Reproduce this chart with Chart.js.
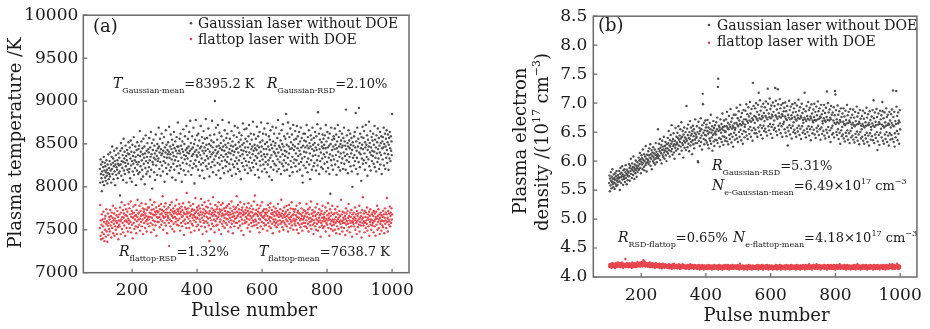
<!DOCTYPE html>
<html>
<head>
<meta charset="utf-8">
<script src="https://cdn.jsdelivr.net/npm/chart.js@4.4.0/dist/chart.umd.min.js"></script>
<style>
  html, body { margin: 0; padding: 0; background: #fff; }
  #wrap { position: relative; width: 930px; height: 329px; }
  .panel { position: absolute; top: 0; width: 465px; height: 329px; }
</style>
</head>
<body>
<div id="wrap">
  <div class="panel" style="left:0"><canvas id="chartA" width="465" height="329"></canvas></div>
  <div class="panel" style="left:465px"><canvas id="chartB" width="465" height="329"></canvas></div>
</div>
<script>
// pulse numbers run 101..1000, one value per pulse
const firstPulse = 101;
const pulseTicks = [200, 400, 600, 800, 1000];
const tempTicks = [7000, 7500, 8000, 8500, 9000, 9500, 10000];
const densTicks = [4.0, 4.5, 5.0, 5.5, 6.0, 6.5, 7.0, 7.5, 8.0, 8.5];

// (a) plasma temperature, K
const tempGauss = [
  8210,8050,8320,8150,8260,8100,7950,8180,8290,8060,8230,8140,8350,8020,8190,8280,8110,8240,8070,8170,8310,8130,8200,8040,8260,8160,8380,8090,8220,8150,
  8300,8120,8400,8190,8260,8050,8350,8210,8470,8150,8280,8330,8090,8240,8420,8180,8300,8020,8260,8370,8140,8230,8450,8200,8310,8100,8270,8390,8160,8250,
  8340,8180,7900,8420,8260,8510,8130,8300,8450,8220,8370,8080,8290,8560,8190,8330,8410,8150,8280,8480,8240,8360,8050,8310,8430,8200,8390,8270,8520,8170,
  8380,8210,8460,8100,8330,8540,8250,8410,8060,8300,8490,8180,8360,8270,8580,8140,8400,8310,8220,8470,8350,8020,8290,8430,8190,8520,8260,8370,8150,8440,
  8290,8480,8170,8650,8360,8240,8410,8090,8530,8310,8200,8450,8380,8120,8560,8270,8340,8470,8030,8390,8220,8600,8300,8150,8420,8350,8510,8180,8280,8440,
  8400,8230,8570,8310,8120,8460,8350,8640,8200,8380,8510,7980,8290,8430,8260,8550,8340,8170,8480,8390,8080,8320,8610,8250,8420,8360,8140,8500,8300,8450,
  8330,8690,8470,8210,8400,8560,8290,8130,8440,8370,8620,8250,8390,8510,8180,8420,8300,8580,8350,8060,8460,8280,8400,8660,8220,8490,8340,8150,8430,8380,
  8520,8260,8410,8700,8340,8190,8470,8380,8610,8230,8440,8320,8550,8110,8400,8490,8270,8360,8640,8200,8450,8310,8530,8080,8420,8350,8580,8240,8470,8390,
  8750,8300,8470,8160,8420,8560,8250,8390,8620,8210,8480,8340,8060,8440,8530,8280,8410,8670,8190,8370,8500,8320,8590,8140,8430,8360,8710,8270,8450,8400,
  8330,8560,8180,8470,8390,8640,8250,8420,8770,8300,8510,8140,8440,8360,8590,8220,8460,8380,8690,8270,8500,8040,8410,8550,8310,8780,8240,8430,8370,8600,
  8350,8480,8200,8620,8400,8290,8540,8130,8450,8370,8710,8260,8470,8330,8580,8190,8420,8510,8280,8650,8390,8100,8460,8560,8310,8420,8790,8240,8490,8360,
  8570,8210,8440,8330,8680,8270,8500,8120,8410,8600,8350,8480,8230,8540,8380,8770,8290,8460,8170,8400,8520,8320,8610,8250,9000,8430,8360,8690,8140,8470,
  8390,8550,8280,8720,8410,8190,8480,8340,8630,8260,8450,8100,8510,8370,8590,8300,8430,8780,8220,8470,8350,8540,8160,8420,8660,8310,8490,8240,8380,8570,
  8460,8290,8620,8350,8180,8510,8400,8750,8270,8440,8560,8200,8390,8480,8320,8650,8130,8420,8530,8260,8470,8370,8600,8230,8410,8710,8300,8490,8150,8440,
  8340,8580,8270,8450,8690,8210,8400,8520,8310,8630,8180,8470,8360,8550,8090,8430,8600,8280,8490,8380,8740,8240,8420,8510,8330,8670,8200,8460,8560,8300,
  8410,8680,8250,8530,8370,8160,8460,8590,8290,8720,8400,8220,8500,8340,8620,8190,8440,8550,8280,8470,8380,8760,8230,8420,8610,8310,8490,8140,8450,8360,
  8560,8270,8430,8700,8340,8480,8200,8590,8390,8110,8460,8640,8300,8520,8250,8410,8750,8360,8470,8180,8540,8320,8620,8260,8440,8380,8680,8210,8500,8350,
  8290,8610,8440,8170,8520,8380,8740,8260,8470,8310,8590,8120,8430,8550,8340,8660,8230,8490,8370,8080,8450,8700,8300,8530,8200,8410,8620,8270,8480,8390,
  8510,8250,8690,8360,8440,8180,8570,8320,8780,8400,8210,8480,8620,8290,8460,8350,8540,8150,8430,8660,8270,8500,8380,8730,8240,8470,8310,8590,8190,8420,
  8360,8560,8280,8850,8410,8490,8200,8620,8340,8750,8260,8470,8390,8580,8130,8440,8680,8300,8520,8230,8450,8610,8350,8170,8490,8720,8280,8430,8550,8320,
  8470,8650,8240,8390,8560,8310,8710,8180,8450,8590,8360,8500,8270,8640,8420,8200,8530,8380,8690,8290,8460,8570,8330,8130,8050,8480,8620,8250,8410,8540,
  8350,8620,8460,8220,8530,8400,8720,8290,8480,8170,8580,8330,8450,8660,8260,8510,8390,8090,8470,8600,8310,8550,8200,8440,8690,8360,8490,8240,8570,8420,
  8280,8510,8640,8370,8460,8190,8590,8430,8310,8730,8250,8870,8490,8360,8620,8150,8440,8550,8300,8680,8400,8230,8520,8470,8330,8610,8210,8450,8560,8380,
  8490,8270,8600,8350,8450,8720,8180,8530,8400,8290,8640,8460,8220,8570,8340,8480,8150,8620,8380,7920,8500,8310,8690,8250,8430,8550,8360,8200,8470,8590,
  8320,8560,8440,8680,8260,8490,8370,8610,8140,8450,8530,8300,8720,8410,8230,8580,8470,8350,8650,8190,8500,8390,8540,8280,8460,8620,8330,8480,8210,8570,
  8400,8690,8270,8530,8360,8480,8200,8900,8440,8310,8600,8380,8510,8160,8470,8660,8290,8540,8350,8450,8620,8240,8490,8390,8570,8180,8430,8000,8520,8340,
  8480,8250,8590,8370,8640,8300,8460,8860,8210,8530,8420,8340,8690,8150,8470,8560,8290,8920,8400,8510,8230,8620,8380,8450,8070,8580,8330,8490,8700,8270,
  8440,8570,8310,8650,8390,8200,8520,8460,8720,8280,8490,8350,8600,8130,8430,8550,8320,8470,8760,8240,8510,8400,8650,8190,8460,8370,8580,8300,8420,8540,
  8360,8620,8270,8490,8410,8710,8230,8550,8340,8460,8180,8600,8390,8520,8290,8680,8440,8330,8570,8210,8480,8400,8640,8260,8510,8370,8590,8150,8450,8530,
  8320,8580,8460,8690,8250,8500,8390,8620,8210,8470,8560,8340,8660,8430,8280,8520,8610,8380,8200,8490,8570,8330,8640,8450,8300,8590,8420,8530,8370,8850
];
const tempFlat = [
  7520,7790,7430,7610,7390,7560,7680,7470,7620,7400,7540,7710,7450,7590,7370,7630,7500,7660,7420,7570,7740,7480,7600,7360,7550,7690,7440,7580,7510,7650,
  7620,7480,7730,7550,7660,7410,7590,7700,7520,7640,7780,7460,7610,7570,7690,7430,7630,7540,7750,7500,7600,7670,7450,7580,7720,7530,7650,7390,7610,7560,
  7680,7540,7760,7600,7450,7700,7620,7820,7510,7650,7580,7730,7470,7640,7690,7550,7790,7600,7430,7670,7610,7740,7520,7660,7590,7710,7480,7630,7800,7570,
  7610,7750,7520,7680,7590,7830,7470,7650,7720,7560,7690,7400,7640,7770,7580,7700,7510,7660,7620,7790,7540,7670,7460,7730,7600,7650,7850,7530,7690,7620,
  7700,7560,7780,7630,7490,7720,7660,7590,7810,7540,7680,7620,7750,7450,7670,7710,7580,7740,7640,7520,7690,7800,7600,7660,7480,7730,7620,7570,7760,7650,
  7620,7760,7540,7700,7650,7850,7580,7690,7470,7730,7640,7790,7560,7680,7610,7740,7500,7670,7820,7600,7710,7550,7680,7760,7430,7650,7720,7590,7700,7640,
  7710,7590,7780,7650,7530,7740,7680,7620,7800,7560,7690,7730,7600,7890,7660,7500,7720,7640,7770,7580,7700,7650,7810,7550,7680,7740,7610,7460,7700,7660,
  7640,7760,7580,7310,7700,7620,7790,7540,7680,7730,7600,7820,7660,7510,7710,7640,7750,7570,7690,7480,7720,7650,7780,7590,7700,7630,7850,7560,7680,7740,
  7610,7720,7550,7690,7800,7630,7750,7490,7680,7710,7580,7770,7650,7540,7730,7660,7810,7600,7700,7440,7690,7620,7760,7570,7680,7740,7520,7930,7650,7710,
  7690,7580,7750,7630,7820,7520,7700,7660,7600,7780,7470,7680,7720,7570,7740,7640,7550,7800,7670,7610,7730,7490,7690,7650,7870,7590,7710,7630,7540,7760,
  7640,7730,7560,7690,7780,7500,7670,7620,7750,7590,7710,7860,7540,7680,7640,7790,7450,7700,7610,7740,7580,7660,7820,7530,7690,7720,7600,7770,7480,7650,
  7700,7580,7760,7630,7840,7550,7690,7370,7720,7640,7800,7510,7680,7610,7750,7570,7700,7660,7880,7540,7730,7620,7680,7470,7710,7790,7600,7660,7550,7740,
  7630,7770,7560,7700,7650,7820,7500,7680,7740,7590,7710,7620,7790,7450,7660,7730,7570,7690,7810,7540,7670,7600,7750,7640,7520,7720,7680,7580,7760,7630,
  7690,7560,7780,7620,7710,7480,7670,7800,7590,7700,7640,7750,7530,7680,7610,7830,7570,7720,7650,7460,7690,7770,7600,7660,7540,7740,7630,7700,7580,7760,
  7640,7890,7580,7710,7660,7790,7520,7680,7740,7600,7700,7550,7820,7650,7690,7490,7730,7620,7760,7570,7670,7710,7440,7680,7800,7610,7690,7580,7730,7650,
  7700,7590,7760,7630,7520,7720,7670,7810,7560,7690,7620,7750,7480,7660,7710,7580,7780,7640,7540,7700,7610,7740,7660,7590,7830,7550,7680,7900,7620,7690,
  7600,7730,7560,7680,7790,7520,7660,7710,7580,7750,7630,7470,7690,7620,7780,7540,7670,7700,7590,7820,7650,7510,7720,7640,7580,7740,7660,7550,7700,7620,
  7680,7560,7740,7610,7700,7490,7660,7790,7580,7720,7630,7540,7760,7650,7600,7810,7520,7690,7640,7730,7570,7680,7460,7700,7620,7770,7590,7660,7710,7550,
  7620,7750,7580,7690,7530,7670,7720,7600,7800,7560,7650,7700,7480,7680,7610,7740,7570,7660,7850,7590,7690,7530,7640,7720,7600,7500,7670,7760,7580,7650,
  7690,7560,7710,7620,7780,7540,7660,7600,7730,7480,7680,7640,7790,7570,7700,7620,7520,7750,7650,7590,7820,7550,7670,7610,7740,7500,7680,7630,7710,7570,
  7600,7740,7550,7670,7620,7780,7500,7650,7700,7580,7720,7460,7640,7690,7560,7810,7610,7530,7680,7630,7750,7570,7660,7490,7700,7620,7580,7730,7640,7540,
  7660,7580,7720,7540,7690,7610,7800,7520,7650,7700,7570,7740,7480,7630,7680,7590,7760,7550,7640,7830,7600,7510,7690,7620,7730,7560,7660,7450,7700,7610,
  7580,7710,7540,7660,7760,7500,7630,7680,7570,7800,7610,7490,7700,7590,7640,7740,7530,7670,7610,7420,7690,7580,7720,7550,7640,7780,7600,7520,7680,7630,
  7650,7540,7700,7600,7760,7480,7630,7580,7720,7560,7670,7610,7810,7520,7640,7690,7430,7620,7740,7570,7660,7510,7700,7600,7550,7780,7620,7490,7680,7590,
  7560,7690,7620,7500,7740,7580,7650,7460,7700,7600,7540,7770,7620,7680,7510,7640,7590,7720,7450,7660,7570,7610,7850,7530,7680,7600,7480,7710,7580,7640,
  7620,7520,7700,7580,7660,7440,7630,7750,7560,7690,7600,7490,7720,7570,7640,7800,7530,7660,7610,7470,7700,7580,7650,7540,7730,7600,7420,7680,7590,7630,
  7570,7700,7540,7650,7610,7760,7500,7630,7680,7580,7450,7720,7600,7660,7530,7690,7620,7560,7780,7480,7640,7590,7700,7550,7660,7410,7620,7730,7580,7880,
  7640,7550,7690,7600,7470,7720,7580,7650,7520,7700,7610,7570,7760,7490,7640,7680,7540,7620,7710,7430,7660,7590,7740,7560,7620,7500,7680,7610,7550,7700,
  7580,7660,7470,7720,7600,7540,7690,7620,7430,7650,7710,7560,7630,7780,7500,7660,7590,7740,7520,7620,7680,7450,7640,7570,7700,7600,7490,7670,7610,7550,
  7650,7530,7720,7600,7680,7460,7640,7750,7570,7610,7700,7520,7680,7870,7590,7640,7480,7720,7620,7560,7690,7600,7770,7540,7660,7700,7580,7750,7620,7680
];

// (b) plasma electron density, 10^17 cm^-3
const densGauss = [
  5.62,5.75,5.48,5.70,5.58,5.81,5.66,5.53,5.73,5.64,5.86,5.60,5.69,5.55,5.77,5.63,5.71,5.52,5.68,5.79,5.61,5.74,5.57,5.83,5.66,5.70,5.59,5.76,5.64,5.72,
  5.70,5.83,5.65,5.50,5.78,5.88,5.72,5.62,5.80,5.74,5.91,5.68,5.77,5.59,5.84,5.73,5.69,5.86,5.75,5.64,5.81,5.93,5.71,5.78,5.60,5.85,5.76,5.67,5.82,5.74,
  5.80,5.95,5.74,5.88,5.66,5.92,5.83,6.04,5.78,5.87,5.71,5.96,5.85,5.90,5.76,6.08,5.82,5.89,5.69,5.94,5.86,5.79,6.01,5.84,5.92,5.73,5.88,5.98,5.81,5.87,
  5.92,6.06,5.85,6.01,5.95,6.14,5.88,6.03,5.79,5.99,6.10,5.94,6.05,5.86,6.20,5.97,6.02,5.90,6.12,5.84,6.00,6.08,5.93,6.26,5.96,6.04,5.82,6.11,5.98,6.03,
  6.02,6.17,5.95,6.10,6.22,5.99,6.06,6.29,5.92,6.12,6.04,6.19,5.86,6.09,6.15,6.00,6.24,6.07,5.97,6.13,6.03,6.20,5.94,6.11,6.31,6.05,6.16,5.98,6.10,6.08,
  6.12,6.55,6.05,6.21,6.30,6.09,6.17,6.38,6.02,6.23,6.14,6.28,5.96,6.19,6.35,6.11,6.25,6.07,6.20,6.42,6.15,6.04,6.26,6.18,6.33,6.10,6.22,6.00,6.29,6.16,
  6.22,6.40,6.13,6.31,6.52,6.19,6.27,6.08,6.36,6.25,6.45,6.17,6.30,6.62,6.21,6.34,6.11,6.38,6.26,6.48,6.15,6.29,6.04,6.35,6.23,6.57,6.28,6.18,6.42,6.32,
  6.30,6.49,6.21,6.40,6.60,6.27,6.37,6.12,6.44,6.33,6.55,6.25,6.39,6.67,6.18,6.42,6.31,6.52,6.28,6.06,6.46,6.35,6.58,6.23,6.41,6.32,6.50,6.19,6.38,6.95,
  6.35,6.56,6.24,6.45,6.63,6.30,6.40,6.17,6.50,6.38,6.69,6.27,6.44,6.58,6.33,6.47,6.12,6.52,6.36,6.61,6.29,6.43,6.55,6.22,6.49,6.37,6.72,6.31,6.46,6.40,
  6.42,6.60,6.31,6.50,6.00,5.98,6.68,6.35,6.47,6.57,6.26,6.52,6.40,6.74,6.33,6.55,6.44,6.20,6.62,7.16,6.98,6.49,6.38,6.66,6.29,6.53,6.45,6.70,6.36,6.58,
  6.44,6.63,6.32,6.52,6.71,6.28,6.47,6.58,6.22,6.50,6.39,6.66,6.35,6.55,6.80,6.30,6.49,6.41,6.60,6.18,6.53,6.45,6.69,6.34,6.57,6.26,6.48,6.62,6.37,6.51,
  6.46,6.67,6.36,6.55,6.75,6.31,7.28,7.42,6.52,6.61,6.40,6.58,6.25,6.54,6.72,6.38,6.49,6.64,6.33,6.56,6.82,6.43,6.59,6.28,6.53,6.70,6.42,6.60,6.35,6.50,
  6.51,6.72,6.40,6.60,6.85,6.34,6.57,6.66,6.29,6.55,6.78,6.45,6.63,6.38,6.59,6.90,6.47,6.68,6.32,6.56,6.74,6.42,6.61,6.25,6.58,6.80,6.49,6.65,6.37,6.54,
  6.57,6.80,6.45,6.66,6.92,6.39,6.63,6.74,6.33,6.60,6.86,6.50,6.70,6.42,6.64,6.97,6.54,6.76,6.36,6.62,6.83,6.47,6.68,6.30,6.65,6.88,6.52,6.72,6.41,6.59,
  6.63,6.87,6.50,6.72,6.98,6.44,6.69,6.81,6.38,6.66,6.93,6.55,6.77,6.47,6.70,7.02,6.59,6.82,6.42,6.68,6.90,6.53,6.74,6.35,7.35,6.71,6.95,6.57,6.78,6.48,
  6.66,6.91,6.54,6.76,7.00,6.48,6.73,6.85,6.42,6.70,6.97,6.58,7.18,6.80,6.51,6.74,7.05,6.62,6.87,6.45,6.72,6.94,6.57,6.78,6.39,6.75,6.99,6.61,6.83,6.52,
  6.69,6.93,6.56,6.78,7.03,6.50,6.75,6.88,6.44,6.72,7.25,6.99,6.60,6.82,6.53,6.76,7.08,6.64,6.90,6.47,6.74,6.96,6.59,6.80,6.40,6.77,7.01,6.63,6.85,6.54,
  6.70,6.95,6.57,7.26,6.79,7.04,6.51,6.76,6.89,6.45,6.73,7.24,6.98,6.61,6.83,6.54,6.77,7.07,6.65,6.91,6.48,6.75,6.97,6.60,6.81,6.42,6.78,7.00,6.64,6.86,
  6.68,6.92,6.55,6.77,7.01,6.49,6.73,6.86,6.43,6.71,6.95,6.58,6.27,6.80,6.52,6.75,7.04,6.62,6.88,6.46,6.72,6.94,6.57,6.79,6.39,6.74,6.98,6.61,6.84,6.50,
  6.67,6.91,6.54,6.76,7.00,6.48,6.72,6.85,6.42,6.70,6.96,6.57,6.79,6.51,6.74,7.06,6.61,6.87,6.45,6.73,6.93,6.56,6.78,6.38,6.75,6.99,6.60,6.83,6.49,6.71,
  6.66,6.90,6.53,6.75,7.18,6.47,6.72,6.86,6.41,6.69,6.95,6.56,6.78,6.50,6.73,7.02,6.60,6.88,6.44,6.71,6.92,6.55,6.77,6.36,6.74,6.98,6.59,6.82,6.48,6.70,
  6.67,6.89,6.54,6.76,6.99,6.46,6.71,6.85,6.40,6.70,6.94,6.57,6.79,6.51,6.72,7.03,6.61,6.86,6.45,6.73,6.91,6.55,6.77,6.37,6.75,6.97,6.58,6.81,6.47,6.69,
  6.65,6.87,6.52,6.74,6.97,6.44,6.70,6.83,6.39,6.68,6.92,6.54,6.76,7.20,6.49,6.71,7.00,6.59,6.84,6.42,6.70,6.89,6.53,6.75,6.33,6.72,6.95,6.57,6.80,6.46,
  6.61,6.84,6.48,6.70,6.93,6.41,6.66,6.79,7.21,7.15,6.64,6.88,6.50,6.72,6.45,6.67,6.96,6.55,6.80,6.38,6.65,6.86,6.49,6.71,6.30,6.68,6.91,6.53,6.76,6.43,
  6.59,6.82,6.46,6.68,6.91,6.39,6.64,6.77,6.34,6.62,6.87,6.49,6.71,6.43,6.65,6.97,6.53,6.79,6.37,6.66,6.85,6.48,6.70,6.31,6.67,6.90,6.52,6.75,6.41,6.63,
  6.57,6.80,6.44,6.66,6.89,6.37,6.62,6.75,6.32,6.60,6.85,6.47,6.69,6.41,6.63,6.94,6.51,6.77,6.35,6.64,6.83,6.46,6.68,6.29,6.65,6.88,6.50,6.73,6.39,6.61,
  6.55,6.78,6.42,6.64,6.87,6.35,6.60,6.73,6.30,6.58,6.83,6.45,6.67,6.39,6.61,6.92,6.49,6.75,6.33,6.62,6.81,6.44,6.66,6.27,6.63,6.86,6.48,6.71,6.37,6.59,
  6.54,6.77,6.43,6.65,6.88,6.36,6.61,7.05,6.74,6.31,6.59,6.84,6.46,6.68,6.40,6.62,6.90,6.50,6.76,6.19,6.34,6.63,6.82,6.45,6.67,6.28,6.64,6.87,6.49,6.72,
  6.56,6.79,6.41,6.63,7.02,6.86,6.35,6.60,6.74,6.30,6.58,6.84,6.46,6.67,6.38,6.61,6.91,6.50,6.76,6.33,6.62,6.80,6.44,6.65,6.27,6.63,6.85,6.48,6.70,6.37,
  6.58,6.81,6.45,6.66,6.89,6.38,6.62,7.22,6.76,6.33,6.60,6.85,6.25,6.48,6.69,6.41,6.64,7.21,6.94,6.52,6.78,6.36,6.65,6.84,6.47,6.70,6.30,6.67,6.88,6.55
];
const densFlat = [
  4.19,4.22,4.17,4.21,4.18,4.23,4.20,4.16,4.22,4.19,4.24,4.18,4.21,4.17,4.20,4.23,4.19,4.22,4.16,4.21,4.18,4.24,4.20,4.17,4.22,4.19,4.21,4.25,4.18,4.20,
  4.22,4.18,4.21,4.24,4.19,4.17,4.23,4.20,4.22,4.18,4.25,4.19,4.21,4.16,4.23,4.20,4.18,4.22,4.19,4.21,4.31,4.17,4.23,4.20,4.19,4.24,4.18,4.22,4.20,4.17,
  4.21,4.19,4.24,4.17,4.22,4.20,4.18,4.23,4.19,4.21,4.16,4.22,4.25,4.18,4.20,4.23,4.17,4.21,4.19,4.24,4.18,4.22,4.20,4.17,4.23,4.19,4.21,4.26,4.18,4.20,
  4.22,4.19,4.24,4.20,4.23,4.18,4.25,4.21,4.19,4.23,4.20,4.26,4.18,4.22,4.24,4.20,4.29,4.23,4.19,4.27,4.21,4.25,4.18,4.22,4.20,4.24,4.19,4.23,4.21,4.18,
  4.21,4.24,4.18,4.22,4.19,4.25,4.20,4.17,4.23,4.21,4.18,4.22,4.20,4.24,4.17,4.21,4.19,4.23,4.18,4.20,4.22,4.16,4.21,4.19,4.24,4.18,4.20,4.22,4.17,4.21,
  4.19,4.22,4.17,4.20,4.18,4.23,4.16,4.21,4.19,4.17,4.22,4.18,4.20,4.15,4.21,4.19,4.23,4.17,4.20,4.18,4.21,4.16,4.19,4.22,4.18,4.20,4.17,4.21,4.19,4.16,
  4.18,4.21,4.16,4.19,4.17,4.22,4.15,4.20,4.18,4.16,4.21,4.17,4.19,4.14,4.20,4.18,4.22,4.16,4.19,4.17,4.23,4.15,4.18,4.20,4.16,4.19,4.17,4.21,4.18,4.15,
  4.17,4.20,4.15,4.19,4.18,4.22,4.16,4.20,4.17,4.14,4.21,4.18,4.16,4.19,4.15,4.20,4.18,4.22,4.16,4.19,4.17,4.21,4.15,4.18,4.20,4.16,4.19,4.17,4.14,4.20,
  4.18,4.15,4.20,4.17,4.21,4.16,4.19,4.14,4.18,4.20,4.16,4.22,4.17,4.19,4.15,4.18,4.21,4.16,4.19,4.17,4.20,4.14,4.18,4.16,4.21,4.17,4.19,4.15,4.20,4.18,
  4.16,4.19,4.14,4.18,4.20,4.15,4.17,4.21,4.16,4.19,4.13,4.18,4.15,4.20,4.17,4.14,4.19,4.16,4.21,4.15,4.18,4.17,4.13,4.19,4.16,4.20,4.15,4.18,4.17,4.14,
  4.17,4.20,4.15,4.18,4.14,4.19,4.16,4.21,4.15,4.18,4.16,4.20,4.14,4.17,4.19,4.15,4.18,4.13,4.20,4.16,4.18,4.15,4.19,4.17,4.14,4.21,4.16,4.18,4.15,4.19,
  4.16,4.19,4.14,4.18,4.20,4.15,4.17,4.13,4.19,4.16,4.21,4.15,4.18,4.14,4.17,4.20,4.16,4.19,4.15,4.18,4.13,4.17,4.20,4.16,4.19,4.14,4.18,4.16,4.21,4.15,
  4.18,4.15,4.20,4.16,4.19,4.14,4.17,4.21,4.15,4.18,4.16,4.13,4.19,4.17,4.20,4.15,4.18,4.14,4.17,4.19,4.16,4.21,4.15,4.18,4.14,4.17,4.20,4.16,4.18,4.15,
  4.17,4.20,4.15,4.18,4.14,4.19,4.16,4.21,4.15,4.18,4.16,4.19,4.13,4.17,4.23,4.15,4.18,4.20,4.16,4.14,4.19,4.17,4.15,4.20,4.16,4.18,4.13,4.17,4.19,4.15,
  4.16,4.19,4.14,4.17,4.20,4.15,4.18,4.13,4.17,4.19,4.15,4.21,4.16,4.18,4.14,4.17,4.20,4.15,4.18,4.16,4.13,4.19,4.17,4.15,4.20,4.16,4.18,4.14,4.19,4.17,
  4.18,4.15,4.19,4.16,4.14,4.20,4.17,4.15,4.18,4.21,4.16,4.13,4.19,4.17,4.15,4.20,4.16,4.18,4.14,4.19,4.17,4.15,4.21,4.16,4.18,4.13,4.17,4.20,4.15,4.18,
  4.16,4.19,4.15,4.17,4.20,4.14,4.18,4.16,4.21,4.15,4.17,4.19,4.13,4.18,4.16,4.20,4.15,4.17,4.19,4.14,4.18,4.16,4.20,4.15,4.17,4.13,4.19,4.16,4.18,4.15,
  4.17,4.14,4.19,4.16,4.18,4.21,4.15,4.17,4.13,4.19,4.16,4.20,4.15,4.18,4.14,4.17,4.19,4.16,4.21,4.15,4.18,4.13,4.17,4.20,4.16,4.18,4.14,4.19,4.17,4.15,
  4.18,4.15,4.20,4.16,4.13,4.19,4.17,4.15,4.21,4.16,4.18,4.14,4.19,4.17,4.15,4.20,4.16,4.18,4.13,4.17,4.19,4.15,4.21,4.16,4.18,4.14,4.17,4.20,4.15,4.19,
  4.16,4.19,4.14,4.18,4.20,4.15,4.17,4.13,4.19,4.16,4.21,4.15,4.18,4.17,4.14,4.20,4.16,4.18,4.15,4.19,4.13,4.17,4.20,4.16,4.18,4.14,4.19,4.17,4.15,4.21,
  4.17,4.15,4.20,4.16,4.18,4.13,4.19,4.17,4.21,4.15,4.18,4.16,4.14,4.20,4.17,4.15,4.19,4.16,4.22,4.14,4.18,4.17,4.15,4.20,4.16,4.19,4.13,4.18,4.16,4.20,
  4.18,4.16,4.21,4.15,4.19,4.17,4.14,4.20,4.16,4.18,4.15,4.22,4.17,4.19,4.14,4.18,4.16,4.20,4.15,4.17,4.21,4.16,4.18,4.13,4.19,4.17,4.15,4.20,4.16,4.18,
  4.17,4.20,4.15,4.18,4.16,4.21,4.14,4.19,4.17,4.15,4.20,4.16,4.18,4.13,4.19,4.17,4.21,4.15,4.18,4.16,4.20,4.14,4.17,4.19,4.15,4.21,4.16,4.18,4.14,4.19,
  4.16,4.19,4.14,4.18,4.21,4.15,4.17,4.20,4.16,4.13,4.19,4.17,4.15,4.21,4.16,4.18,4.14,4.20,4.17,4.15,4.19,4.16,4.22,4.15,4.18,4.14,4.17,4.20,4.16,4.18,
  4.18,4.15,4.20,4.16,4.19,4.14,4.17,4.21,4.15,4.18,4.16,4.20,4.13,4.17,4.19,4.15,4.21,4.16,4.18,4.14,4.19,4.17,4.15,4.20,4.16,4.18,4.13,4.19,4.17,4.15,
  4.17,4.20,4.15,4.18,4.14,4.19,4.16,4.21,4.15,4.18,4.16,4.13,4.20,4.17,4.15,4.19,4.16,4.22,4.15,4.18,4.14,4.17,4.20,4.16,4.19,4.15,4.18,4.13,4.17,4.20,
  4.16,4.18,4.14,4.19,4.17,4.21,4.15,4.18,4.16,4.20,4.14,4.17,4.19,4.15,4.21,4.16,4.18,4.13,4.19,4.17,4.15,4.20,4.16,4.18,4.14,4.19,4.17,4.21,4.15,4.18,
  4.17,4.15,4.20,4.16,4.18,4.13,4.19,4.17,4.15,4.21,4.16,4.18,4.14,4.20,4.17,4.15,4.19,4.16,4.21,4.14,4.18,4.17,4.15,4.20,4.16,4.19,4.13,4.18,4.16,4.20,
  4.18,4.16,4.20,4.15,4.19,4.17,4.14,4.21,4.16,4.18,4.15,4.20,4.17,4.19,4.13,4.18,4.16,4.21,4.15,4.17,4.20,4.16,4.18,4.14,4.19,4.17,4.15,4.22,4.16,4.18,
  4.17,4.20,4.15,4.18,4.16,4.22,4.14,4.19,4.17,4.15,4.21,4.16,4.18,4.14,4.20,4.17,4.15,4.19,4.16,4.23,4.15,4.18,4.16,4.21,4.14,4.19,4.17,4.20,4.15,4.18
];

const GRAY = '#4e4e4e';
const RED = '#e8454d';
const INK = '#1a1a1a';
const FRAME = '#6a6a6a';
const SERIF = '"DejaVu Serif", serif';

const toPoints = vals => vals.map((v, i) => ({ x: firstPulse + i, y: v }));

// text with italic letters, subscripts and superscripts
function drawRich(ctx, x, y, parts, size, align) {
  const small = Math.round(size * 0.62);
  const font = k => k === 'i' ? `italic ${size + 1}px ${SERIF}` : (k === 'b' || k === 'p') ? `${small}px ${SERIF}` : `${size}px ${SERIF}`;
  const shift = { i: 0, n: 0, b: size * 0.38, p: -size * 0.45 };
  let total = 0;
  parts.forEach(([t, k]) => { ctx.font = font(k); total += ctx.measureText(t).width; });
  let cx = align === 'center' ? x - total / 2 : x;
  parts.forEach(([t, k]) => {
    ctx.font = font(k);
    ctx.fillText(t, cx, y + shift[k]);
    cx += ctx.measureText(t).width;
  });
}

function decor(spec) {
  return {
    id: 'decor',
    afterDraw(chart) {
      const { ctx, chartArea: a, scales } = chart;
      ctx.save();
      // frame and inward ticks
      ctx.strokeStyle = FRAME;
      ctx.lineWidth = 1.5;
      ctx.strokeRect(a.left, a.top, a.right - a.left, a.bottom - a.top);
      ctx.lineWidth = 1.2;
      ctx.beginPath();
      pulseTicks.forEach(v => {
        const px = scales.x.getPixelForValue(v);
        ctx.moveTo(px, a.bottom); ctx.lineTo(px, a.bottom - 4);
      });
      spec.yTicks.forEach(v => {
        const py = scales.y.getPixelForValue(v);
        ctx.moveTo(a.left, py); ctx.lineTo(a.left + 4, py);
      });
      ctx.stroke();

      ctx.fillStyle = INK;
      ctx.textBaseline = 'alphabetic';
      ctx.textAlign = 'left';
      // panel letter
      ctx.font = `18px ${SERIF}`;
      ctx.fillText(spec.letter[0], spec.letter[1], spec.letter[2]);
      // legend
      ctx.font = `14px ${SERIF}`;
      spec.legend.forEach(([label, color, dx, dy, tx, ty]) => {
        ctx.fillStyle = color;
        ctx.beginPath(); ctx.arc(dx, dy, 1.3, 0, Math.PI * 2); ctx.fill();
        ctx.fillStyle = INK;
        ctx.fillText(label, tx, ty);
      });
      // annotations
      spec.notes.forEach(([x, y, parts]) => drawRich(ctx, x, y, parts, 13, 'left'));
      // axis titles
      drawRich(ctx, spec.xTitle[0], spec.xTitle[1], spec.xTitle[2], 18, 'center');
      spec.yTitle.forEach(([bx, cy, parts]) => {
        ctx.save();
        ctx.translate(bx, cy);
        ctx.rotate(-Math.PI / 2);
        drawRich(ctx, 0, 0, parts, 18, 'center');
        ctx.restore();
      });
      ctx.restore();
    }
  };
}

function makeChart(id, sets, xr, yr, yTickVals, yFmt, geom, spec) {
  return new Chart(document.getElementById(id), {
    type: 'scatter',
    data: {
      datasets: sets.map(([vals, color]) => ({
        data: toPoints(vals),
        backgroundColor: color,
        borderWidth: 0,
        pointRadius: 1.2,
        pointHoverRadius: 1.2
      }))
    },
    options: {
      responsive: false,
      animation: false,
      events: [],
      devicePixelRatio: 1,
      layout: { padding: { left: 0, right: geom.right, top: geom.top, bottom: 0 } },
      plugins: { legend: { display: false }, tooltip: { enabled: false } },
      scales: {
        x: {
          type: 'linear', min: xr[0], max: xr[1],
          afterBuildTicks: s => { s.ticks = pulseTicks.map(v => ({ value: v })); },
          afterFit: s => { s.height = geom.xh; },
          grid: { display: false, drawTicks: false },
          border: { display: false },
          ticks: { color: INK, font: { family: SERIF, size: 17 }, padding: 8, maxRotation: 0, autoSkip: false, callback: v => String(v) }
        },
        y: {
          type: 'linear', min: yr[0], max: yr[1],
          afterBuildTicks: s => { s.ticks = yTickVals.map(v => ({ value: v })); },
          afterFit: s => { s.width = geom.yw; },
          grid: { display: false, drawTicks: false },
          border: { display: false },
          ticks: { color: INK, font: { family: SERIF, size: 17 }, padding: geom.ypad, autoSkip: false, callback: yFmt }
        }
      }
    },
    plugins: [decor(spec)]
  });
}

makeChart('chartA',
  [[tempGauss, GRAY], [tempFlat, RED]],
  [50, 1052], [7000, 10000], tempTicks, v => String(v),
  { right: 56, top: 11.7, xh: 56.3, yw: 83.3, ypad: 5 },
  {
    yTicks: tempTicks,
    letter: ['(a)', 93, 32],
    legend: [
      ['Gaussian laser without DOE', GRAY, 191, 23.3, 198, 28.3],
      ['flattop laser with DOE', RED, 191, 39, 198, 44]
    ],
    notes: [
      [113, 88, [['T', 'i'], ['Gaussian-mean', 'b'], ['=8395.2 K', 'n']]],
      [267, 88, [['R', 'i'], ['Gaussian-RSD', 'b'], ['=2.10%', 'n']]],
      [119, 256, [['R', 'i'], ['flattop-RSD', 'b'], ['=1.32%', 'n']]],
      [259, 256, [['T', 'i'], ['flattop-mean', 'b'], ['=7638.7 K', 'n']]]
    ],
    xTitle: [254, 316, [['Pulse number', 'n']]],
    yTitle: [[21, 143, [['Plasma temperature /K', 'n']]]]
  });

makeChart('chartB',
  [[densGauss, GRAY], [densFlat, RED]],
  [52, 1052], [4.0, 8.5], densTicks, v => v.toFixed(1),
  { right: 5, top: 13.3, xh: 52, yw: 128.3, ypad: 6 },
  {
    yTicks: densTicks,
    letter: ['(b)', 133, 31],
    legend: [
      ['Gaussian laser without DOE', GRAY, 244, 25, 252, 30],
      ['flattop laser with DOE', RED, 244, 42.7, 252, 46]
    ],
    notes: [
      [247, 170, [['R', 'i'], ['Gaussian-RSD', 'b'], ['=5.31%', 'n']]],
      [247, 190, [['N', 'i'], ['e-Gaussian-mean', 'b'], ['=6.49\u00d710', 'n'], ['17', 'p'], [' cm', 'n'], ['\u22123', 'p']]],
      [153, 242, [['R', 'i'], ['RSD-flattop', 'b'], ['=0.65%', 'n']]],
      [268, 242, [['N', 'i'], ['e-flattop-mean', 'b'], ['=4.18\u00d710', 'n'], ['17', 'p'], [' cm', 'n'], ['\u22123', 'p']]]
    ],
    xTitle: [301.5, 321, [['Pulse number', 'n']]],
    yTitle: [
      [61, 141, [['Plasma electron', 'n']]],
      [83, 142, [['density /(10', 'n'], ['17', 'p'], [' cm', 'n'], ['\u22123', 'p'], [')', 'n']]]
    ]
  });
</script>
</body>
</html>
